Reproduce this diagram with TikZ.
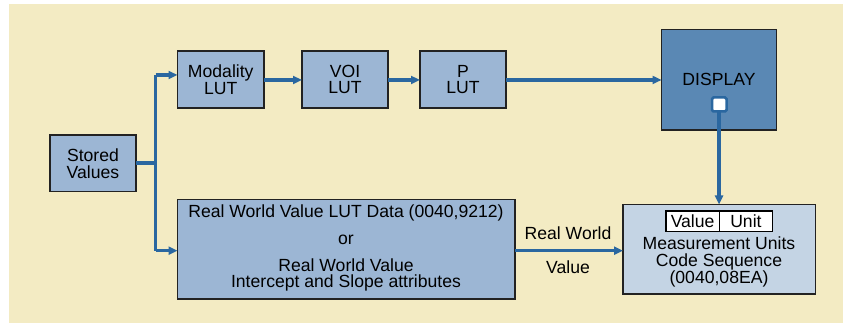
\documentclass[tikz,border=0pt]{standalone}
\usepackage{fontspec}
\setmainfont{Liberation Sans}
\usetikzlibrary{arrows.meta}
\definecolor{bgy}{HTML}{F3EBC3}
\definecolor{boxb}{HTML}{9CB6D4}
\definecolor{dispb}{HTML}{5A88B4}
\definecolor{measb}{HTML}{C4D4E4}
\definecolor{arr}{HTML}{2A67A0}
\definecolor{edge}{HTML}{222222}
\begin{document}
\begin{tikzpicture}[x=1pt,y=-1pt,
  box/.style={draw=edge,line width=1.3pt,fill=boxb},
  txt/.style={font=\fontsize{17.6}{16.7}\selectfont,align=center,inner sep=0pt,text=black},
  conn/.style={draw=arr,line width=3.2pt,-{Triangle[length=9pt,width=8pt]}},
  line/.style={draw=arr,line width=3.2pt}]
\useasboundingbox (0,0) rectangle (843,323);
\fill[bgy] (9,4) rectangle (843,323);
% boxes
\draw[box] (50,135) rectangle (136,191.5);
\node[txt] (stored) at (93,163.5) {Stored\\Values};
\coordinate (storedE) at (136,163);
\draw[box] (177.5,51) rectangle (264,108);
\node[txt] (mod) at (220.75,79.5) {Modality\\LUT};
\coordinate (modW) at (177.5,75);
\coordinate (modE) at (264,80);
\draw[box] (302,51) rectangle (388,108);
\node[txt] (voi) at (345,79.5) {VOI\\LUT};
\coordinate (voiW) at (302,80);
\coordinate (voiE) at (388,80);
\draw[box] (420,51) rectangle (506,108);
\node[txt] (plut) at (463,79.5) {P\\LUT};
\coordinate (plutW) at (420,80);
\coordinate (plutE) at (506,80);
\draw[draw=edge,line width=1.3pt,fill=dispb] (661.5,29.5) rectangle (776.5,130);
\node[txt] (disp) at (719,79) {DISPLAY};
\coordinate (dispW) at (661.5,80);
\draw[draw=arr,line width=2.5pt,fill=white,rounded corners=1.5pt] (712,97.5) rectangle (726.5,111.5);
\coordinate (sq) at (719,112.5);
\draw[box] (177.5,199.5) rectangle (515,299);
\node[txt] (rw1) at (346,213) {Real World Value LUT Data (0040,9212)};
\node[txt] (rw2) at (346,240) {or};
\node[txt] (rw3) at (346,275) {Real World Value\\Intercept and Slope attributes};
\coordinate (rwW) at (177.5,250.7);
\coordinate (rwE) at (515,250.7);
\draw[draw=edge,line width=1.3pt,fill=measb] (623,204.5) rectangle (815.5,294);
\draw[draw=black,line width=1.2pt,fill=white] (666,211) rectangle (772.5,231.5);
\draw[black,line width=1.2pt] (719.3,211) -- (719.3,231.5);
\node[txt] (val) at (692.6,221.5) {Value};
\node[txt] (unit) at (745.9,221.5) {Unit};
\node[txt] (meas) at (719,262) {Measurement Units\\Code Sequence\\(0040,08EA)};
\coordinate (measW) at (623,250.7);
\coordinate (measN) at (719,204.5);
\node[txt] (rwl1) at (568,233) {Real World};
\node[txt] (rwl2) at (568,267) {Value};
% connectors
\coordinate (jn) at (155.7,163);
\draw[line] (storedE) -- (jn);
\draw[line,line cap=butt] (155.7,75) -- (155.7,250.7);
\draw[conn] (155.7,75) -- (modW);
\draw[conn] (155.7,250.7) -- (rwW);
\draw[conn] (modE) -- (voiW);
\draw[conn] (voiE) -- (plutW);
\draw[conn] (plutE) -- (dispW);
\draw[conn] (sq) -- (measN);
\draw[conn] (rwE) -- (measW);
\end{tikzpicture}
\end{document}
